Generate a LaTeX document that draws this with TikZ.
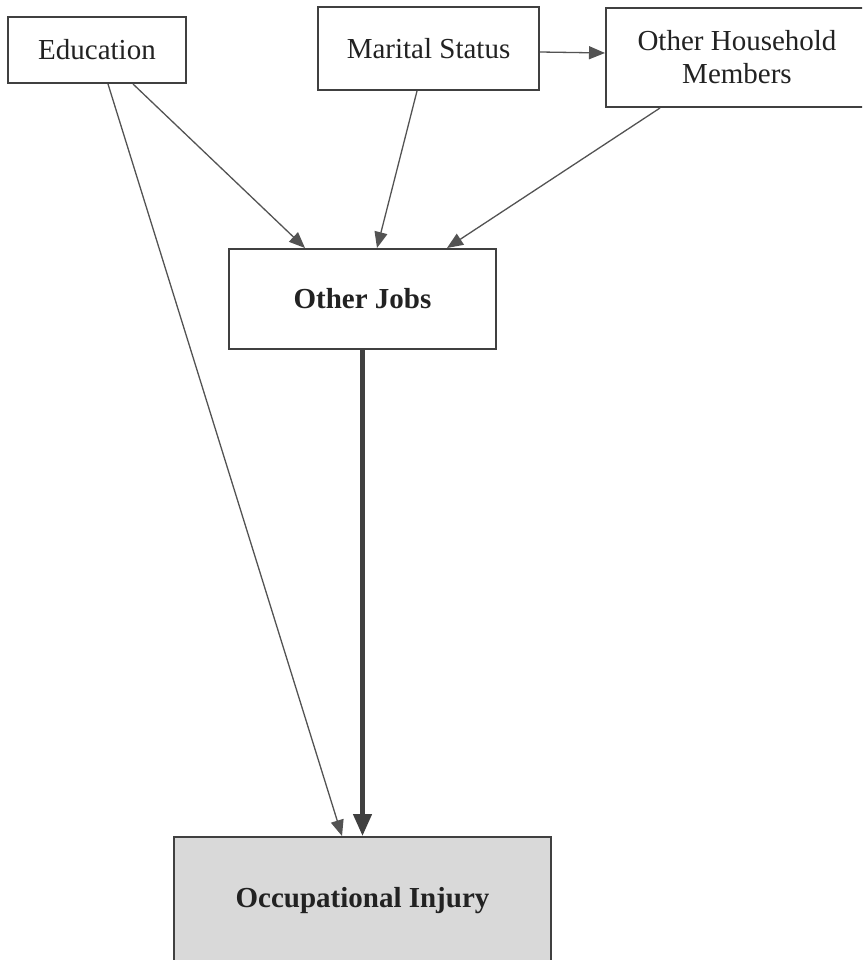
\documentclass[tikz,border=0pt]{standalone}
\usepackage{fontspec}
\setmainfont{Liberation Serif}
\usetikzlibrary{arrows.meta}
\definecolor{edgegray}{HTML}{404040}
\definecolor{txtgray}{HTML}{222222}
\definecolor{fillgray}{HTML}{D9D9D9}
\begin{document}
\begin{tikzpicture}[x=1pt,y=-1pt,
  box/.style={draw=edgegray, line width=2pt, fill=white, inner sep=0pt,
    text=txtgray, align=center, font=\fontsize{29}{33}\selectfont},
  keybox/.style={box, font=\fontsize{29}{33}\selectfont\bfseries},
  arr/.style={draw=edgegray!90, line width=1.3pt,
    -{Triangle[length=16pt,width=13pt]}},
  thickarr/.style={draw=edgegray, line width=4.5pt,
    -{Triangle[length=22pt,width=18pt]}}]
\useasboundingbox (0,0) rectangle (862,960);
\clip (0,0) rectangle (862,960);

% factor boxes
\node[box, minimum width=178pt, minimum height=66pt] (edu) at (97,50) {Education};
\node[box, minimum width=221pt, minimum height=83pt] (ms) at (428.5,48.5) {Marital Status};
\node[box, minimum width=262pt, minimum height=99pt] (ohm) at (737,57.5) {Other Household\\Members};
\node[keybox, minimum width=267pt, minimum height=100pt] (oj) at (362.5,299) {Other Jobs};
\node[keybox, fill=fillgray, minimum width=377pt, minimum height=128pt] (oi) at (362.5,901) {Occupational Injury};

% causal links
\draw[arr] ([xshift=11pt]edu.south) -- ([xshift=-20.5pt]oi.north);
\draw[arr] ([xshift=36pt]edu.south) -- ([xshift=-57.5pt]oj.north);
\draw[arr] ([xshift=-11.5pt]ms.south) -- ([xshift=14.5pt]oj.north);
\draw[arr] ([yshift=-3.5pt]ms.east) -- ([yshift=4.5pt]ohm.west);
\draw[arr] ([xshift=-77pt]ohm.south) -- ([xshift=84.5pt]oj.north);
\draw[thickarr] (oj.south) -- (oi.north);
\end{tikzpicture}
\end{document}
